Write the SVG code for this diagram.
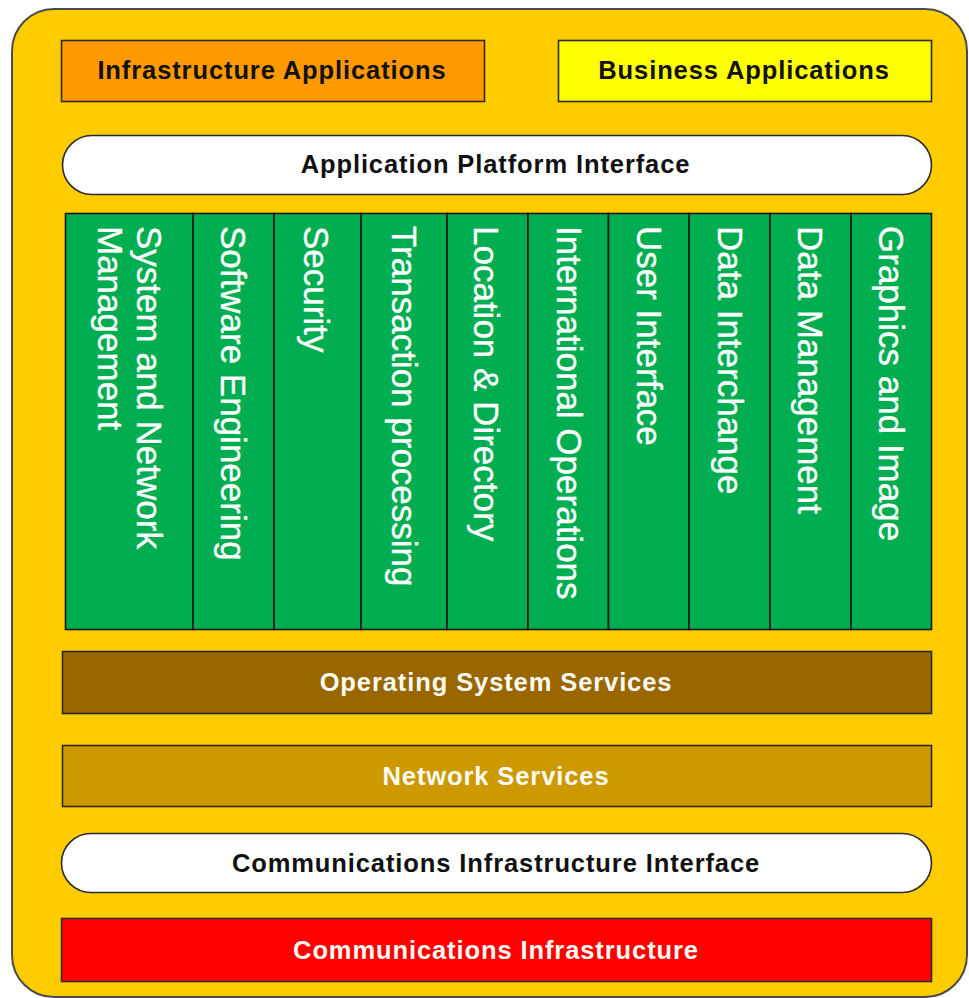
<svg xmlns="http://www.w3.org/2000/svg" width="969" height="998" viewBox="0 0 969 998">
<style>
.box{stroke:#2b2b2b;stroke-width:1.6}
.h{font-family:"Liberation Sans",Arial,sans-serif;font-weight:bold;font-size:25.5px;letter-spacing:0.9px;text-anchor:middle}
.v{font-family:"Liberation Sans",Arial,sans-serif;font-size:35px;fill:#ffffff;stroke:#ffffff;stroke-width:0.35}
.dark{fill:#111111}
.light{fill:#fbfbf4}
.col{fill:#00ad50;stroke:#1a1a1a;stroke-width:1.6}
</style>
<rect width="969" height="998" fill="#ffffff"/>
<g id="frame">
<rect x="12" y="9" width="955" height="988" rx="42" ry="42" fill="#ffcc00" stroke="#4a4a4a" stroke-width="2"/>
</g>
<g id="infrastructure-applications">
<rect class="box" x="61.5" y="40.5" width="423" height="61" fill="#ff9900"/>
<text class="h dark" x="272" y="78.5">Infrastructure Applications</text>
</g>
<g id="business-applications">
<rect class="box" x="558.5" y="40.5" width="373" height="61" fill="#ffff00"/>
<text class="h dark" x="744" y="78.5">Business Applications</text>
</g>
<g id="application-platform-interface">
<rect class="box" x="62.5" y="135.5" width="869" height="59" rx="29.5" ry="29.5" fill="#ffffff"/>
<text class="h dark" x="495.5" y="173">Application Platform Interface</text>
</g>
<g id="services">
<g id="system-and-network-management">
<rect class="col" x="65.5" y="213.5" width="127.5" height="416"/>
<text class="v" transform="translate(137,226) rotate(90)"><tspan x="0" y="0">System and Network</tspan><tspan x="0" y="39.5">Management</tspan></text>
</g>
<g id="software-engineering">
<rect class="col" x="193" y="213.5" width="81" height="416"/>
<text class="v" transform="translate(221,226) rotate(90)">Software Engineering</text>
</g>
<g id="security">
<rect class="col" x="274" y="213.5" width="87" height="416"/>
<text class="v" transform="translate(303.5,226) rotate(90)">Security</text>
</g>
<g id="transaction-processing">
<rect class="col" x="361" y="213.5" width="86" height="416"/>
<text class="v" transform="translate(392,226) rotate(90)">Transaction processing</text>
</g>
<g id="location-directory">
<rect class="col" x="447" y="213.5" width="81" height="416"/>
<text class="v" transform="translate(473.5,226) rotate(90)">Location &amp; Directory</text>
</g>
<g id="international-operations">
<rect class="col" x="528" y="213.5" width="80.5" height="416"/>
<text class="v" transform="translate(557,226) rotate(90)">International Operations</text>
</g>
<g id="user-interface">
<rect class="col" x="608.5" y="213.5" width="80.5" height="416"/>
<text class="v" transform="translate(637,226) rotate(90)">User Interface</text>
</g>
<g id="data-interchange">
<rect class="col" x="689" y="213.5" width="81" height="416"/>
<text class="v" transform="translate(717.5,226) rotate(90)">Data Interchange</text>
</g>
<g id="data-management">
<rect class="col" x="770" y="213.5" width="81" height="416"/>
<text class="v" transform="translate(798,226) rotate(90)">Data Management</text>
</g>
<g id="graphics-and-image">
<rect class="col" x="851" y="213.5" width="80.5" height="416"/>
<text class="v" transform="translate(879,226) rotate(90)">Graphics and Image</text>
</g>
</g>
<g id="operating-system-services">
<rect class="box" x="62.5" y="651.5" width="869" height="62" fill="#996600"/>
<text class="h light" x="496" y="691">Operating System Services</text>
</g>
<g id="network-services">
<rect class="box" x="62.5" y="745.5" width="869" height="61" fill="#cc9900"/>
<text class="h light" x="496" y="784.5">Network Services</text>
</g>
<g id="communications-infrastructure-interface">
<rect class="box" x="61.5" y="833.5" width="870" height="59" rx="29.5" ry="29.5" fill="#ffffff"/>
<text class="h dark" x="496" y="871.5">Communications Infrastructure Interface</text>
</g>
<g id="communications-infrastructure">
<rect class="box" x="61.5" y="918.5" width="870" height="63" fill="#ff0000"/>
<text class="h light" x="496" y="958.5">Communications Infrastructure</text>
</g>
<g id="connectors"/>
</svg>
